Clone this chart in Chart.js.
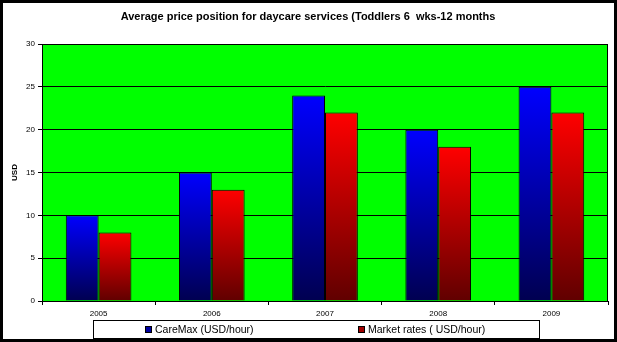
<!DOCTYPE html>
<html>
<head>
<meta charset="utf-8">
<script src="https://cdn.jsdelivr.net/npm/chart.js@4/dist/chart.umd.min.js"></script>
<style>
  html, body { margin: 0; padding: 0; background: #fff; }
  #wrap { width: 617px; height: 342px; }
</style>
</head>
<body>
<div id="wrap"><canvas id="priceChart" width="617" height="342"></canvas></div>
<script>
const years = ['2005', '2006', '2007', '2008', '2009'];
const careMax = [10, 15, 24, 20, 25];
const marketRates = [8, 13, 22, 18, 22];
const yTicks = [0, 5, 10, 15, 20, 25, 30];
const chartTitle = 'Average price position for daycare services (Toddlers 6  wks-12 months';

function barGradient(ctx, top, bottom) {
  return function (context) {
    const chart = context.chart;
    const y = chart.scales && chart.scales.y;
    if (!y || context.parsed == null) return top;
    const yTop = y.getPixelForValue(context.parsed.y);
    const yBase = y.getPixelForValue(0);
    if (!isFinite(yTop) || !isFinite(yBase) || yTop === yBase) return top;
    const g = chart.ctx.createLinearGradient(0, yTop, 0, yBase);
    g.addColorStop(0, top);
    g.addColorStop(1, bottom);
    return g;
  };
}

const framePlugin = {
  id: 'frame',
  beforeDraw(chart) {
    const c = chart.ctx;
    const a = chart.chartArea;
    c.save();
    c.fillStyle = '#ffffff';
    c.fillRect(0, 0, chart.width, chart.height);
    c.fillStyle = '#00ff00';
    c.fillRect(a.left, a.top, a.right - a.left, a.bottom - a.top);
    c.restore();
  },
  afterDraw(chart) {
    const c = chart.ctx;
    const a = chart.chartArea;
    c.save();
    // plot border
    c.strokeStyle = '#000';
    c.lineWidth = 1;
    c.strokeRect(a.left + 0.5, a.top + 0.5, a.right - a.left - 1, a.bottom - a.top);
    // title
    c.fillStyle = '#000';
    c.font = 'bold 11px "Liberation Sans", Arial, sans-serif';
    c.textAlign = 'center';
    c.textBaseline = 'middle';
    c.fillText(chartTitle, 308, 17);
    // legend box
    c.lineWidth = 1;
    c.strokeRect(93.5, 320.5, 446, 18);
    c.font = '10.5px "Liberation Sans", Arial, sans-serif';
    c.textAlign = 'left';
    const items = [
      { x: 145, color: '#0000a0', label: 'CareMax (USD/hour)' },
      { x: 358, color: '#a00000', label: 'Market rates ( USD/hour)' }
    ];
    items.forEach(function (it) {
      c.fillStyle = it.color;
      c.fillRect(it.x, 326, 7, 7);
      c.strokeStyle = '#000';
      c.strokeRect(it.x + 0.5, 326.5, 6, 6);
      c.fillStyle = '#000';
      c.fillText(it.label, it.x + 10, 330);
    });
    // outer frame
    c.lineWidth = 3;
    c.strokeRect(1.5, 1.5, chart.width - 3, chart.height - 3);
    c.restore();
  }
};

document.addEventListener('DOMContentLoaded', function () {
  const ctx = document.getElementById('priceChart').getContext('2d');

  new Chart(ctx, {
    type: 'bar',
    data: {
      labels: years,
      datasets: [{
        label: 'CareMax (USD/hour)',
        data: careMax,
        backgroundColor: barGradient(ctx, '#0000ff', '#000050'),
        borderColor: '#000',
        borderWidth: 1,
        borderSkipped: 'bottom',
        categoryPercentage: 0.58,
        barPercentage: 1
      },
      {
        label: 'Market rates ( USD/hour)',
        data: marketRates,
        backgroundColor: barGradient(ctx, '#ff0000', '#600000'),
        borderColor: '#000',
        borderWidth: 1,
        borderSkipped: 'bottom',
        categoryPercentage: 0.58,
        barPercentage: 1
      }]
    },
    plugins: [framePlugin],
    options: {
      responsive: false,
      animation: false,
      layout: {
        padding: { left: 10, right: 9, top: 44, bottom: 20 }
      },
      plugins: {
        legend: { display: false },
        title: { display: false },
        tooltip: { enabled: false }
      },
      scales: {
        y: {
          min: 0,
          max: 30,
          afterBuildTicks(scale) {
            scale.ticks = yTicks.map(function (v) { return { value: v }; });
          },
          afterFit(scale) { scale.width = 32; },
          border: { display: true, color: '#000' },
          grid: {
            color: '#000',
            lineWidth: 1,
            drawTicks: true,
            tickLength: 4,
            tickColor: '#000'
          },
          ticks: {
            color: '#000',
            padding: 3,
            font: { size: 8, family: '"Liberation Sans", Arial, sans-serif' }
          },
          title: {
            display: true,
            text: 'USD',
            color: '#000',
            padding: { top: 0, bottom: 2 },
            font: { size: 8, weight: 'bold', family: '"Liberation Sans", Arial, sans-serif' }
          }
        },
        x: {
          afterFit(scale) { scale.height = 21; },
          border: { display: true, color: '#000' },
          grid: {
            display: true,
            drawOnChartArea: false,
            drawTicks: true,
            tickLength: 4,
            tickColor: '#000',
            offset: true
          },
          ticks: {
            color: '#000',
            padding: 4,
            font: { size: 8, family: '"Liberation Sans", Arial, sans-serif' }
          }
        }
      }
    }
  });
});
</script>
</body>
</html>
